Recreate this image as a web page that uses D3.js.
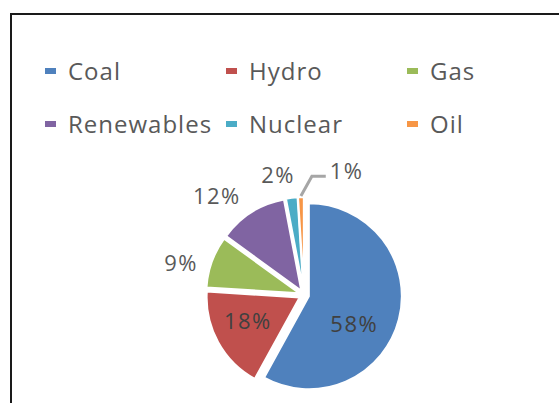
<!DOCTYPE html>
<html>
<head>
<meta charset="utf-8">
<script src="https://cdn.jsdelivr.net/npm/d3@7"></script>
<style>
  body { margin: 0; background: #fff; }
  svg { display: block; font-family: "Open Sans", "Noto Sans", sans-serif; }
</style>
</head>
<body>
<div class="vis"></div>
<script>
// chart data
const categories = ["Coal", "Hydro", "Gas", "Renewables", "Nuclear", "Oil"];
const shares = [58, 18, 9, 12, 2, 1];
const labels = ["58%", "18%", "9%", "12%", "2%", "1%"];
const colors = ["#4f81bd", "#c0504d", "#9bbb59", "#8064a2", "#4bacc6", "#f79646"];

// where excel put each label: [angle in degrees, distance from centre]
const labelPolar = [[120, 58], [245, 62], [284.6, 127], [318.7, 132], [347.8, 123], [19, 131]];
const insideLabel = [true, true, false, false, false, false];

const width = 559, height = 403;
const cx = 304, cy = 295, radius = 93, explode = 5;

const svg = d3.select(".vis")
	.append("svg")
	.attr("width", width)
	.attr("height", height);

// chart area border (cropped at right and bottom)
svg.append("path")
	.attr("d", "M11," + (height + 5) + "V14H" + (width + 5))
	.attr("fill", "none")
	.attr("stroke", "#1a1a1a")
	.attr("stroke-width", 2);

// legend
const legend = svg.append("g").attr("class", "legend");
const colX = d3.scalePoint().domain([0, 1, 2]).range([45, 407]);
const rowY = d3.scalePoint().domain([0, 1]).range([71, 124]);

const item = legend.selectAll("g")
	.data(categories)
	.enter()
	.append("g")
	.attr("transform", (d, i) => "translate(" + colX(i % 3) + "," + rowY(Math.floor(i / 3)) + ")");

item.append("rect")
	.attr("x", 0)
	.attr("y", -3)
	.attr("width", 11)
	.attr("height", 6)
	.attr("fill", (d, i) => colors[i]);

item.append("text")
	.attr("x", 23)
	.attr("y", 0)
	.attr("dy", "0.36em")
	.attr("font-size", 24)
	.attr("letter-spacing", 1)
	.attr("fill", "#595959")
	.text(d => d);

// pie
const pie = d3.pie().sort(null).value(d => d);
const arcs = pie(shares);
const arc = d3.arc().innerRadius(0).outerRadius(radius);

const g = svg.append("g").attr("transform", "translate(" + cx + "," + cy + ")");

g.selectAll("path.slice")
	.data(arcs)
	.enter()
	.append("path")
	.attr("class", "slice")
	.attr("d", arc)
	.attr("transform", d => {
		const mid = (d.startAngle + d.endAngle) / 2;
		return "translate(" + (explode * Math.sin(mid)) + "," + (-explode * Math.cos(mid)) + ")";
	})
	.attr("fill", (d, i) => colors[i])
	.attr("stroke", "#fff")
	.attr("stroke-width", 2);

function polar(angleDeg, r) {
	const a = angleDeg * Math.PI / 180;
	return [r * Math.sin(a), -r * Math.cos(a)];
}

const lbl = g.selectAll("text.lbl")
	.data(arcs)
	.enter()
	.append("text")
	.attr("class", "lbl")
	.attr("x", (d, i) => polar(labelPolar[i][0], labelPolar[i][1])[0])
	.attr("y", (d, i) => polar(labelPolar[i][0], labelPolar[i][1])[1])
	.attr("dy", "0.36em")
	.attr("text-anchor", "middle")
	.attr("font-size", 22)
	.attr("letter-spacing", 1.5)
	.attr("fill", (d, i) => insideLabel[i] ? "#404040" : "#595959")
	.text((d, i) => labels[i]);

// leader line for the thin Oil slice
const oil = arcs[5];
const oilMid = (oil.startAngle + oil.endAngle) / 2 * 180 / Math.PI;
const p0 = polar(oilMid, radius + explode + 1);
const p1 = polar(3.8, 119);
const oilBox = lbl.nodes()[5].getBBox();
const p2 = [oilBox.x - 4, p1[1]];
g.append("polyline")
	.attr("points", [p0, p1, p2].map(p => p.join(",")).join(" "))
	.attr("fill", "none")
	.attr("stroke", "#a6a6a6")
	.attr("stroke-width", 3);
</script>
</body>
</html>
